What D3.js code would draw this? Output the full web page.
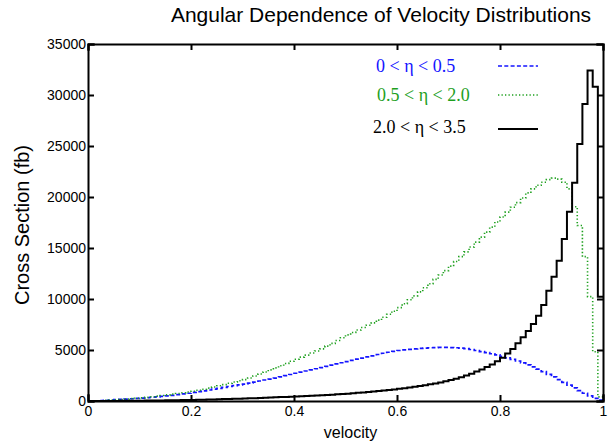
<!DOCTYPE html>
<html>
<head>
<meta charset="utf-8">
<script src="https://cdn.jsdelivr.net/npm/d3@7"></script>
<style>
    body { margin: 0; background: #fff; }
    #chart { width: 615px; height: 444px; }
    .axis text { font-family: "Liberation Sans", Arial, sans-serif; font-size: 14px; fill: #000; }
    .axis path, .axis line { stroke: #000; stroke-width: 2px; }
    .title, .axis-label { font-family: "Liberation Sans", Arial, sans-serif; fill: #000; }
    .legend-text { font-family: "Liberation Serif", "Times New Roman", serif; font-size: 18px; }
</style>
</head>
<body>
<div id="chart"></div>
<script>
// ====== Angular Dependence of Velocity Distributions ======

// histogram bins: 100 bins of width 0.01 on [0, 1]
const binStarts = d3.range(0, 100).map(i => i / 100);

// 0 < eta < 0.5
const centralCounts = [
    0, 10, 30, 60, 100, 130, 160, 190, 220, 250,
    280, 320, 370, 410, 450, 500, 560, 620, 690, 760,
    840, 920, 1000, 1080, 1160, 1240, 1330, 1420, 1500, 1580,
    1660, 1760, 1860, 1960, 2060, 2150, 2250, 2360, 2480, 2600,
    2720, 2830, 2940, 3050, 3160, 3280, 3390, 3510, 3630, 3750,
    3870, 3990, 4100, 4210, 4320, 4430, 4560, 4680, 4780, 4870,
    4950, 5020, 5070, 5110, 5150, 5190, 5220, 5240, 5250, 5250,
    5240, 5220, 5180, 5130, 5050, 4950, 4850, 4750, 4630, 4520,
    4380, 4230, 4080, 3920, 3740, 3550, 3350, 3120, 2880, 2620,
    2360, 2100, 1830, 1560, 1290, 1020, 760, 500, 260, 80
];

// 0.5 < eta < 2.0
const midCounts = [
    0, 10, 30, 60, 90, 120, 150, 190, 230, 270,
    310, 360, 420, 480, 540, 600, 670, 740, 810, 880,
    960, 1050, 1150, 1260, 1370, 1490, 1610, 1740, 1860, 1980,
    2100, 2260, 2450, 2640, 2840, 3050, 3250, 3460, 3680, 3900,
    4100, 4300, 4500, 4700, 4900, 5110, 5380, 5650, 5930, 6200,
    6480, 6720, 6960, 7200, 7430, 7660, 7930, 8210, 8500, 8800,
    9150, 9530, 9920, 10310, 10700, 11100, 11500, 11920, 12350, 12780,
    13220, 13680, 14150, 14620, 15100, 15580, 16070, 16560, 17050, 17550,
    18040, 18520, 19000, 19450, 19900, 20400, 20800, 21150, 21450, 21700,
    21850, 21750, 21450, 20800, 19050, 17200, 14150, 10230, 4830, 400
];

// 2.0 < eta < 3.5
const forwardCounts = [
    0, 0, 2, 5, 8, 12, 16, 20, 25, 30,
    35, 40, 45, 52, 58, 65, 72, 80, 90, 100,
    110, 120, 132, 145, 158, 170, 185, 200, 215, 230,
    245, 262, 280, 300, 320, 340, 360, 380, 400, 420,
    440, 465, 490, 515, 540, 565, 590, 620, 650, 685,
    720, 760, 800, 840, 880, 930, 980, 1030, 1080, 1130,
    1190, 1250, 1320, 1390, 1470, 1550, 1630, 1720, 1820, 1930,
    2050, 2190, 2340, 2500, 2680, 2880, 3100, 3330, 3580, 3900,
    4250, 4650, 5100, 5650, 6245, 6860, 7550, 8360, 9410, 10810,
    12190, 13760, 15880, 18560, 21400, 25200, 29110, 32400, 30810, 10230
];

const seriesNames = ["0 < \u03b7 < 0.5", "0.5 < \u03b7 < 2.0", "2.0 < \u03b7 < 3.5"];
const xTicks = [0, 0.2, 0.4, 0.6, 0.8, 1];
const yTicks = [0, 5000, 10000, 15000, 20000, 25000, 30000, 35000];

function buildChart () {
    let margin = {top: 44, right: 12, bottom: 43, left: 88},
        width = 615 - margin.left - margin.right,
        height = 444 - margin.top - margin.bottom;

    let x = d3.scaleLinear().domain([0, 1]).range([0, width]);
    let y = d3.scaleLinear().domain([0, 35000]).range([height, 0]);

    let root = d3.select("#chart").append("svg")
        .attr("width", 615)
        .attr("height", 444);

    root.append("text")
        .attr("class", "title")
        .attr("x", 381)
        .attr("y", 22)
        .style("font-size", "21px")
        .style("text-anchor", "middle")
        .text("Angular Dependence of Velocity Distributions");

    let svg = root.append("g")
        .attr("transform", "translate(" + margin.left + "," + margin.top + ")");

    // histograms drawn as steps
    let series = [
        {name: seriesNames[0], counts: centralCounts, color: "#1414ff", dash: "4,2.3", width: 1.7},
        {name: seriesNames[1], counts: midCounts, color: "#1ea01e", dash: "1.3,2.2", width: 1.6},
        {name: seriesNames[2], counts: forwardCounts, color: "#000", dash: null, width: 2}
    ];

    let line = d3.line()
        .x(function(d) { return x(d[0]); })
        .y(function(d) { return y(d[1]); })
        .curve(d3.curveStepAfter);

    series.forEach(function(s) {
        let pts = binStarts.map(function(b, i) { return [b, s.counts[i]]; });
        pts.push([1, s.counts[s.counts.length - 1]]);
        svg.append("path")
            .datum(pts)
            .attr("fill", "none")
            .attr("stroke", s.color)
            .attr("stroke-width", s.width)
            .attr("stroke-dasharray", s.dash)
            .attr("d", line);
    });

    // axes with inward ticks on all four sides
    svg.append("g")
        .attr("class", "x axis")
        .attr("transform", "translate(0," + height + ")")
        .call(d3.axisBottom(x).tickValues(xTicks).tickSize(-6).tickPadding(5)
            .tickFormat(function(d) { return String(d); }));

    svg.append("g")
        .attr("class", "x axis")
        .call(d3.axisTop(x).tickValues(xTicks).tickSize(-6).tickFormat(""));

    svg.append("g")
        .attr("class", "y axis")
        .call(d3.axisLeft(y).tickValues(yTicks).tickSize(-6).tickPadding(2)
            .tickFormat(function(d) { return String(d); }));

    svg.append("g")
        .attr("class", "y axis")
        .attr("transform", "translate(" + width + ",0)")
        .call(d3.axisRight(y).tickValues(yTicks).tickSize(-6).tickFormat(""));

    svg.selectAll(".axis path").attr("stroke-linecap", "square");

    svg.append("text")
        .attr("class", "axis-label")
        .attr("x", width / 2 + 5)
        .attr("y", height + 37)
        .style("font-size", "16px")
        .style("text-anchor", "middle")
        .text("velocity");

    svg.append("text")
        .attr("class", "axis-label")
        .attr("transform", "rotate(-90)")
        .attr("x", -(225 - margin.top))
        .attr("y", 29 - margin.left)
        .style("font-size", "20px")
        .style("text-anchor", "middle")
        .text("Cross Section (fb)");

    // legend
    let legendRows = [
        {textY: 72, lineY: 66, textX: 376},
        {textY: 101, lineY: 95, textX: 377},
        {textY: 133, lineY: 129, textX: 373}
    ];

    let legend = root.selectAll(".legend")
        .data(series)
        .enter().append("g")
        .attr("class", "legend");

    legend.append("text")
        .attr("class", "legend-text")
        .attr("x", function(d, i) { return legendRows[i].textX; })
        .attr("y", function(d, i) { return legendRows[i].textY; })
        .style("fill", function(d) { return d.color; })
        .text(function(d) { return d.name; });

    legend.append("line")
        .attr("x1", 498)
        .attr("x2", 538)
        .attr("y1", function(d, i) { return legendRows[i].lineY; })
        .attr("y2", function(d, i) { return legendRows[i].lineY; })
        .attr("stroke", function(d) { return d.color; })
        .attr("stroke-width", function(d) { return d.width; })
        .attr("stroke-dasharray", function(d) { return d.dash; });
}

buildChart();
</script>
</body>
</html>
